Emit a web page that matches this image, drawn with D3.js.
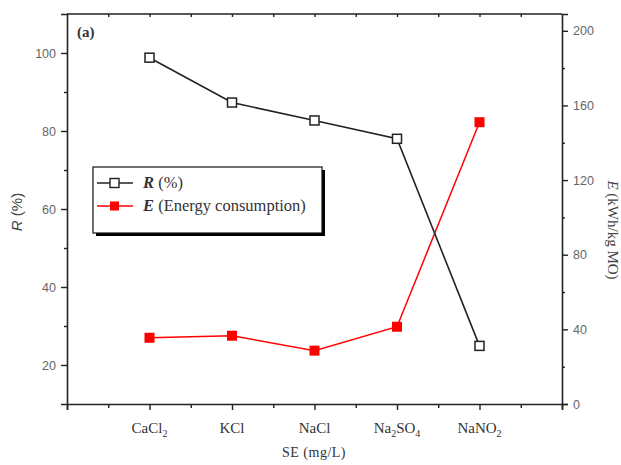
<!DOCTYPE html>
<html>
<head>
<meta charset="utf-8">
<script src="https://cdn.jsdelivr.net/npm/d3@7"></script>
<style>
  html, body { margin: 0; padding: 0; background: #fff; }
  svg { display: block; }
</style>
</head>
<body>
<svg id="chart" width="621" height="465"></svg>
<script>
// Supporting electrolytes on the x axis (label, subscripted parts)
const categories = ["CaCl2", "KCl", "NaCl", "Na2SO4", "NaNO2"];
const categoryParts = [
  [["CaCl", false], ["2", true]],
  [["KCl", false]],
  [["NaCl", false]],
  [["Na", false], ["2", true], ["SO", false], ["4", true]],
  [["NaNO", false], ["2", true]]
];
// Removal efficiency R (%), left axis
const removal = [98.8, 87.3, 82.7, 78.0, 24.9];
// Energy consumption E (kWh/kg MO), right axis
const energy = [35.5, 36.6, 28.6, 41.4, 151];
const leftTicks = [20, 40, 60, 80, 100];
const rightTicks = [0, 40, 80, 120, 160, 200];

const svg = d3.select("#chart");
const L = 67, R = 562, T = 14, B = 404;

const x = d3.scaleLinear().domain([0, 6]).range([L, R]);
const yL = d3.scaleLinear().domain([10, 110]).range([B, T]);
const yR = d3.scaleLinear().domain([0, 209]).range([B, T]);

const axisColor = "#222";
const tickFont = "Liberation Sans, Arial, sans-serif";
const serif = "Liberation Serif, Times New Roman, serif";

// Top frame line
svg.append("line").attr("x1", L).attr("x2", R).attr("y1", T).attr("y2", T)
  .attr("stroke", axisColor).attr("stroke-width", 1.6);

// Left axis
const gL = svg.append("g").attr("transform", `translate(${L},0)`)
  .call(d3.axisLeft(yL).tickValues(leftTicks).tickSize(6).tickPadding(5));
const gLm = svg.append("g").attr("transform", `translate(${L},0)`)
  .call(d3.axisLeft(yL).tickValues([30, 50, 70, 90]).tickSize(3).tickFormat(""));
gLm.select(".domain").remove();

// Right axis
const gR = svg.append("g").attr("transform", `translate(${R},0)`)
  .call(d3.axisRight(yR).tickValues(rightTicks).tickSize(6).tickPadding(5));
const gRm = svg.append("g").attr("transform", `translate(${R},0)`)
  .call(d3.axisRight(yR).tickValues([20, 60, 100, 140, 180]).tickSize(3).tickFormat(""));
gRm.select(".domain").remove();

// Bottom axis: major ticks at categories, minor ticks between
const gB = svg.append("g").attr("transform", `translate(0,${B})`)
  .call(d3.axisBottom(x).tickValues([0, 1, 2, 3, 4, 5, 6]).tickSize(6).tickFormat(""));
const gBm = svg.append("g").attr("transform", `translate(0,${B})`)
  .call(d3.axisBottom(x).tickValues([0.5, 1.5, 2.5, 3.5, 4.5, 5.5]).tickSize(4).tickFormat(""));
gBm.select(".domain").remove();

// Top axis ticks pointing inward
const gT = svg.append("g").attr("transform", `translate(0,${T})`)
  .call(d3.axisBottom(x).tickValues([0.5, 1, 1.5, 2, 2.5, 3, 3.5, 4, 4.5, 5, 5.5]).tickSize(3).tickFormat(""));
gT.select(".domain").remove();

[gL, gLm, gR, gRm, gB, gBm, gT].forEach(g => {
  g.selectAll(".domain").attr("stroke", axisColor).attr("stroke-width", 1.6);
  g.selectAll(".tick line").attr("stroke", axisColor).attr("stroke-width", 1.4);
  g.selectAll(".tick text").attr("font-family", tickFont).attr("font-size", 12.5).attr("fill", "#666");
});

// Category labels with subscripts
categories.forEach((c, i) => {
  const t = svg.append("text")
    .attr("x", x(i + 1)).attr("y", 433)
    .attr("text-anchor", "middle")
    .attr("font-family", serif)
    .attr("font-size", 15).attr("fill", "#333");
  categoryParts[i].forEach(([s, sub]) => {
    const ts = t.append("tspan").text(s);
    if (sub) ts.attr("font-size", 10).attr("dy", 4);
    else ts.attr("dy", t.selectAll("tspan").size() > 1 ? -4 : 0);
  });
});

// Axis titles
svg.append("text").attr("x", 314).attr("y", 457).attr("text-anchor", "middle")
  .attr("font-family", serif).attr("font-size", 14)
  .attr("fill", "#333").attr("letter-spacing", 0.5).text("SE (mg/L)");

const lt = svg.append("text").attr("transform", "translate(22,212) rotate(-90)")
  .attr("text-anchor", "middle").attr("font-family", tickFont)
  .attr("font-size", 15).attr("fill", "#444");
lt.append("tspan").attr("font-style", "italic").text("R");
lt.append("tspan").text(" (%)");

const rt = svg.append("text").attr("transform", "translate(608,230) rotate(90)")
  .attr("text-anchor", "middle").attr("font-family", serif)
  .attr("font-size", 15).attr("fill", "#444");
rt.append("tspan").attr("font-style", "italic").text("E");
rt.append("tspan").text(" (kWh/kg MO)");

// Panel label
svg.append("text").attr("x", 77).attr("y", 37)
  .attr("font-family", serif)
  .attr("font-weight", "bold").attr("font-size", 15).attr("fill", "#333").text("(a)");

// Series lines and markers
const idx = d3.range(categories.length);
const lineR = d3.line().x(i => x(i + 1)).y(i => yL(removal[i]));
const lineE = d3.line().x(i => x(i + 1)).y(i => yR(energy[i]));

svg.append("path").datum(idx).attr("d", lineE).attr("fill", "none")
  .attr("stroke", "#f00").attr("stroke-width", 1.5);
svg.append("path").datum(idx).attr("d", lineR).attr("fill", "none")
  .attr("stroke", "#222").attr("stroke-width", 1.6);

const ms = 10;
svg.selectAll(".mE").data(idx).enter().append("rect")
  .attr("x", i => x(i + 1) - ms / 2).attr("y", i => yR(energy[i]) - ms / 2)
  .attr("width", ms).attr("height", ms).attr("fill", "#f00");
svg.selectAll(".mR").data(idx).enter().append("rect")
  .attr("x", i => x(i + 1) - (ms - 1) / 2).attr("y", i => yL(removal[i]) - (ms - 1) / 2)
  .attr("width", ms - 1).attr("height", ms - 1).attr("fill", "#fff")
  .attr("stroke", "#222").attr("stroke-width", 1.5);

// Legend with drop shadow
const lg = svg.append("g");
lg.append("rect").attr("x", 96).attr("y", 170).attr("width", 229).attr("height", 66).attr("fill", "#000");
lg.append("rect").attr("x", 93).attr("y", 167).attr("width", 229).attr("height", 66)
  .attr("fill", "#fff").attr("stroke", "#111").attr("stroke-width", 1.2);

const legendRows = [
  { y: 183, color: "#222", fill: "#fff", sym: "R", rest: " (%)" },
  { y: 206, color: "#f00", fill: "#f00", sym: "E", rest: " (Energy consumption)" }
];
legendRows.forEach(r => {
  lg.append("line").attr("x1", 97).attr("x2", 133).attr("y1", r.y).attr("y2", r.y)
    .attr("stroke", r.color).attr("stroke-width", 1.5);
  lg.append("rect").attr("x", 110).attr("y", r.y - 4.5).attr("width", 9).attr("height", 9)
    .attr("fill", r.fill).attr("stroke", r.fill === "#fff" ? "#222" : "none").attr("stroke-width", 1.4);
  const t = lg.append("text").attr("x", 143).attr("y", r.y + 5)
    .attr("font-family", serif)
    .attr("font-size", 16.5).attr("fill", "#333");
  t.append("tspan").attr("font-style", "italic").attr("font-weight", "bold").text(r.sym);
  t.append("tspan").text(r.rest);
});
</script>
</body>
</html>
